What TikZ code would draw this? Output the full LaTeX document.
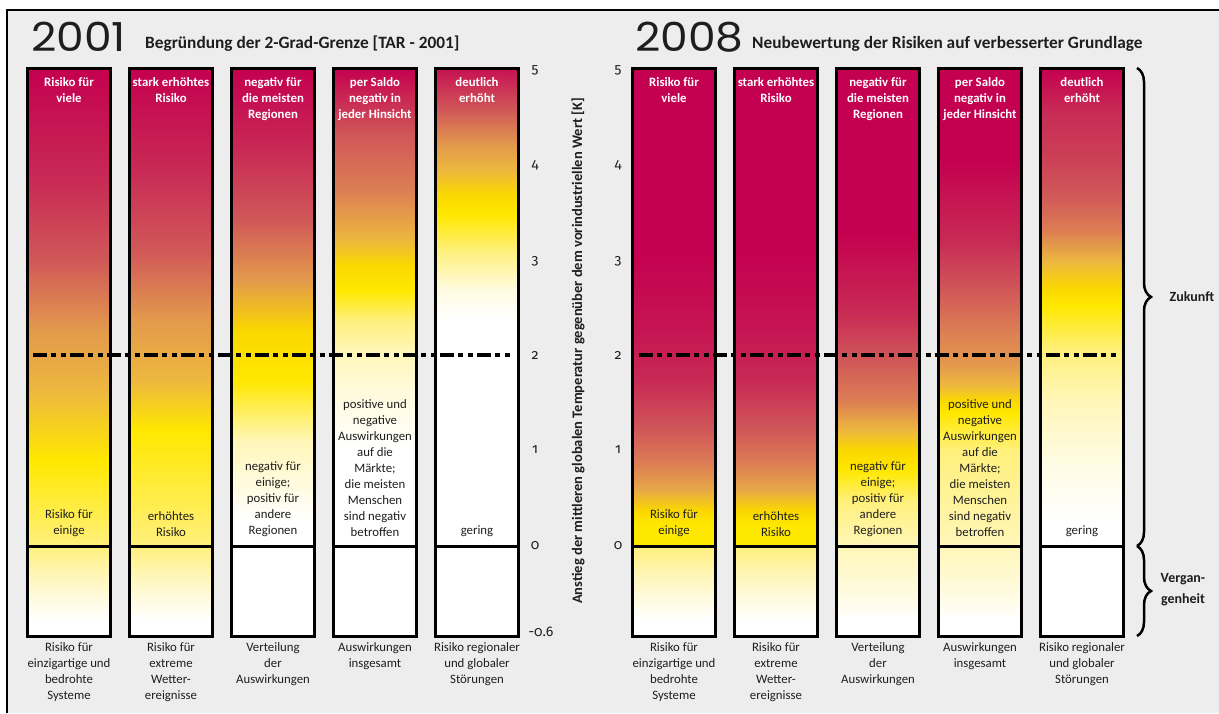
\documentclass[tikz,border=0pt]{standalone}
\usepackage{fontspec}
\setmainfont{Carlito}
\newfontfamily\yearfont{Poppins}
\newfontfamily\numfont{Fira Sans}[Numbers=OldStyle]
\usetikzlibrary{decorations.pathreplacing}

\definecolor{bg}{HTML}{EDEDED}
\definecolor{crim}{HTML}{C40050}
\definecolor{rosered}{HTML}{C82A55}
\definecolor{rose}{HTML}{D05858}
\definecolor{salmon}{HTML}{DC7E54}
\definecolor{orng}{HTML}{E39A4C}
\definecolor{amber}{HTML}{EDB83E}
\definecolor{gold}{HTML}{FAD800}
\definecolor{yel}{HTML}{FFE800}
\definecolor{lightyel}{HTML}{FFF07C}
\definecolor{paleyel}{HTML}{FFF6B8}
\definecolor{cream}{HTML}{FFFBE2}
\definecolor{ink}{HTML}{1E1E1E}

% upper part of the bars: 25bp = 0 K, 75bp = 5 K
\pgfdeclareverticalshading{up-2001-1}{100bp}{color(0bp)=(lightyel); color(25bp)=(lightyel); color(33.9bp)=(yel); color(41.2bp)=(amber); color(47.5bp)=(orng); color(54.9bp)=(rose); color(63.3bp)=(rosered); color(75bp)=(crim); color(100bp)=(crim)}
\pgfdeclareverticalshading{up-2001-2}{100bp}{color(0bp)=(lightyel); color(25bp)=(lightyel); color(37.1bp)=(yel); color(42.3bp)=(amber); color(48.6bp)=(orng); color(55.9bp)=(rose); color(64.3bp)=(rosered); color(75bp)=(crim); color(100bp)=(crim)}
\pgfdeclareverticalshading{up-2001-3}{100bp}{color(0bp)=(white); color(27.6bp)=(white); color(36bp)=(paleyel); color(42.3bp)=(yel); color(47.5bp)=(gold); color(52.8bp)=(orng); color(59.1bp)=(rose); color(66.4bp)=(rosered); color(75bp)=(crim); color(100bp)=(crim)}
\pgfdeclareverticalshading{up-2001-4}{100bp}{color(0bp)=(white); color(35bp)=(white); color(40.2bp)=(cream); color(45.4bp)=(paleyel); color(48.6bp)=(lightyel); color(51.7bp)=(yel); color(54.4bp)=(gold); color(57bp)=(amber); color(62.2bp)=(salmon); color(68bp)=(rose); color(75bp)=(crim); color(100bp)=(crim)}
\pgfdeclareverticalshading{up-2001-5}{100bp}{color(0bp)=(white); color(48.6bp)=(white); color(51.7bp)=(cream); color(55.9bp)=(lightyel); color(59.6bp)=(yel); color(61.7bp)=(gold); color(64.3bp)=(amber); color(66.9bp)=(orng); color(70.6bp)=(rose); color(75bp)=(crim!60!rosered); color(100bp)=(crim!60!rosered)}
\pgfdeclareverticalshading{up-2008-1}{100bp}{color(0bp)=(yel); color(27.1bp)=(yel); color(28.7bp)=(gold); color(30.8bp)=(amber!50!orng); color(33.6bp)=(salmon); color(37.1bp)=(rose); color(42.3bp)=(rosered); color(47.5bp)=(rosered!50!crim); color(55.9bp)=(crim); color(100bp)=(crim)}
\pgfdeclareverticalshading{up-2008-2}{100bp}{color(0bp)=(yel); color(27.1bp)=(yel); color(28.7bp)=(gold); color(30.8bp)=(amber!50!orng); color(33.6bp)=(salmon); color(37.1bp)=(rose); color(42.3bp)=(rosered); color(47.5bp)=(rosered!50!crim); color(55.9bp)=(crim); color(100bp)=(crim)}
\pgfdeclareverticalshading{up-2008-3}{100bp}{color(0bp)=(paleyel); color(25bp)=(paleyel); color(29.7bp)=(lightyel); color(32.9bp)=(yel); color(35bp)=(gold); color(37.1bp)=(amber); color(40.2bp)=(salmon); color(44.4bp)=(rose); color(49.6bp)=(rosered); color(58bp)=(crim); color(100bp)=(crim)}
\pgfdeclareverticalshading{up-2008-4}{100bp}{color(0bp)=(paleyel); color(25bp)=(paleyel); color(35bp)=(lightyel); color(38.9bp)=(yel); color(40.2bp)=(gold); color(41.8bp)=(amber); color(43.9bp)=(orng); color(47.5bp)=(salmon); color(51.7bp)=(rose); color(57bp)=(rosered); color(65.4bp)=(crim); color(100bp)=(crim)}
\pgfdeclareverticalshading{up-2008-5}{100bp}{color(0bp)=(white); color(27.6bp)=(white); color(33.9bp)=(cream); color(40.2bp)=(paleyel); color(45.4bp)=(lightyel); color(50.2bp)=(yel); color(51.9bp)=(gold); color(54.7bp)=(amber); color(58bp)=(salmon); color(61.7bp)=(rose); color(65.4bp)=(rose!50!rosered); color(70.6bp)=(rosered); color(75bp)=(crim); color(100bp)=(crim)}
% part below zero
\pgfdeclareverticalshading{low-2001-1}{100bp}{color(0bp)=(white); color(33.8bp)=(white); color(44.8bp)=(cream); color(58.5bp)=(paleyel); color(75bp)=(lightyel); color(100bp)=(lightyel)}
\pgfdeclareverticalshading{low-2001-2}{100bp}{color(0bp)=(white); color(33.8bp)=(white); color(44.8bp)=(cream); color(58.5bp)=(paleyel); color(75bp)=(lightyel); color(100bp)=(lightyel)}
\pgfdeclareverticalshading{low-2001-3}{100bp}{color(0bp)=(white); color(100bp)=(white)}
\pgfdeclareverticalshading{low-2001-4}{100bp}{color(0bp)=(white); color(100bp)=(white)}
\pgfdeclareverticalshading{low-2001-5}{100bp}{color(0bp)=(white); color(100bp)=(white)}
\pgfdeclareverticalshading{low-2008-1}{100bp}{color(0bp)=(white); color(33.8bp)=(white); color(44.8bp)=(cream); color(58.5bp)=(paleyel); color(75bp)=(lightyel); color(100bp)=(lightyel)}
\pgfdeclareverticalshading{low-2008-2}{100bp}{color(0bp)=(white); color(33.8bp)=(white); color(44.8bp)=(cream); color(58.5bp)=(paleyel); color(75bp)=(lightyel); color(100bp)=(lightyel)}
\pgfdeclareverticalshading{low-2008-3}{100bp}{color(0bp)=(white); color(33.8bp)=(white); color(48bp)=(cream); color(75bp)=(paleyel); color(100bp)=(paleyel)}
\pgfdeclareverticalshading{low-2008-4}{100bp}{color(0bp)=(white); color(33.8bp)=(white); color(48bp)=(cream); color(75bp)=(paleyel); color(100bp)=(paleyel)}
\pgfdeclareverticalshading{low-2008-5}{100bp}{color(0bp)=(white); color(100bp)=(white)}

\tikzset{
  barframe/.style={line width=3pt, black},
  toptext/.style={text=white, font=\bfseries\fontsize{12.8}{16}\selectfont, align=center, anchor=north, inner sep=0pt},
  lowtext/.style={text=ink, font=\fontsize{12.8}{16}\selectfont, align=center, anchor=south, inner sep=0pt},
  captext/.style={text=ink, font=\fontsize{12.8}{16}\selectfont, align=center, anchor=north, inner sep=0pt},
  axisnum/.style={text=ink, font=\numfont\fontsize{14}{14}\selectfont, inner sep=0pt},
  yearlab/.style={anchor=base west, inner sep=0pt, text=ink, xscale=1.1, font=\yearfont\fontsize{40}{40}\selectfont},
  headlab/.style={anchor=base west, inner sep=0pt, text=ink, font=\bfseries\fontsize{17.3}{17.3}\selectfont},
  twodeg/.style={line width=3.5pt, dash pattern=on 14pt off 4pt on 5pt off 5pt on 5pt off 4pt},
  curly/.style={decorate, decoration={brace, amplitude=14pt, aspect=#1}, line width=2.5pt},
  curly/.default=0.5,
  sidelab/.style={text=ink, font=\bfseries\fontsize{14}{21}\selectfont, align=center},
}

\begin{document}
\begin{tikzpicture}[x=1pt, y=-1pt]
    \useasboundingbox (0,0) rectangle (1219,713);
    \fill[white] (0,0) rectangle (1219,713);
    \fill[bg] (7,10) rectangle (1219,713);
    \draw[line width=2pt] (7,713) -- (7,10) -- (1219,10);

    \node[yearlab] (yr-2001) at (31,51) {2001};
    \node[headlab] (head-2001) at (145,48) {Begründung der 2-Grad-Grenze [TAR - 2001]};
    \node[yearlab] (yr-2008) at (635,51) {2008};
    \node[headlab] (head-2008) at (752,48) {Neubewertung der Risiken auf verbesserter Grundlage};

    \foreach \yr/\ox in {2001/0, 2008/605} {
        \foreach \txthi/\txtlo/\txtcap [count=\i] in {
            {Risiko für\\viele}/{Risiko für\\einige}/{Risiko für\\einzigartige und\\bedrohte\\Systeme},
            {stark erhöhtes\\Risiko}/{erhöhtes\\Risiko}/{Risiko für\\extreme\\Wetter-\\ereignisse},
            {negativ für\\die meisten\\Regionen}/{negativ für\\einige;\\positiv für\\andere\\Regionen}/{Verteilung\\der\\Auswirkungen},
            {per Saldo\\negativ in\\jeder Hinsicht}/{positive und\\negative\\Auswirkungen\\auf die\\Märkte;\\die meisten\\Menschen\\sind negativ\\betroffen}/{Auswirkungen\\insgesamt},
            {deutlich\\erhöht}/{gering}/{Risiko regionaler\\und globaler\\Störungen}} {
            \pgfmathsetmacro\cx{\ox-33+102*\i}
            \shade[shading=up-\yr-\i] (\cx-41.5,68) rectangle (\cx+41.5,546);
            \shade[shading=low-\yr-\i] (\cx-41.5,546) rectangle (\cx+41.5,636);
            \draw[barframe] (\cx-41.5,68) rectangle (\cx+41.5,636);
            \draw[barframe] (\cx-41.5,546) -- (\cx+41.5,546);
            \node[toptext] (hi-\yr-\i) at (\cx,77) {\txthi};
            \node[lowtext] (lo-\yr-\i) at (\cx,537) {\txtlo};
            \node[captext] (cap-\yr-\i) at (\cx,642) {\txtcap};
        }
    }

    \draw[twodeg] (33,355) -- (511,355);
    \draw[twodeg] (639,355) -- (1117,355);

    \foreach \v/\y in {5/70,4/165,3/261,2/355,1/450,0/546} {
        \node[axisnum] (ax-a-\v) at (535,\y) {\v};
        \node[axisnum] (ax-b-\v) at (618,\y) {\v};
    }
    \node[axisnum] (ax-a-min) at (541,632) {-0.6};

    \node[rotate=90, text=ink, font=\bfseries\fontsize{14.5}{14.5}\selectfont] (ylab) at (578,351) {Anstieg der mittleren globalen Temperatur gegenüber dem vorindustriellen Wert [K]};

    \coordinate (zk-top) at (1137,68);
    \coordinate (zk-bot) at (1137,546);
    \coordinate (vg-bot) at (1137,636);
    \draw[curly=0.479] (zk-top) -- (zk-bot);
    \draw[curly] (zk-bot) -- (vg-bot);
    \node[sidelab] (zukunft) at (1192,297) {Zukunft};
    \node[sidelab] (vergangen) at (1183,590) {Vergan-\\genheit};

\end{tikzpicture}
\end{document}
